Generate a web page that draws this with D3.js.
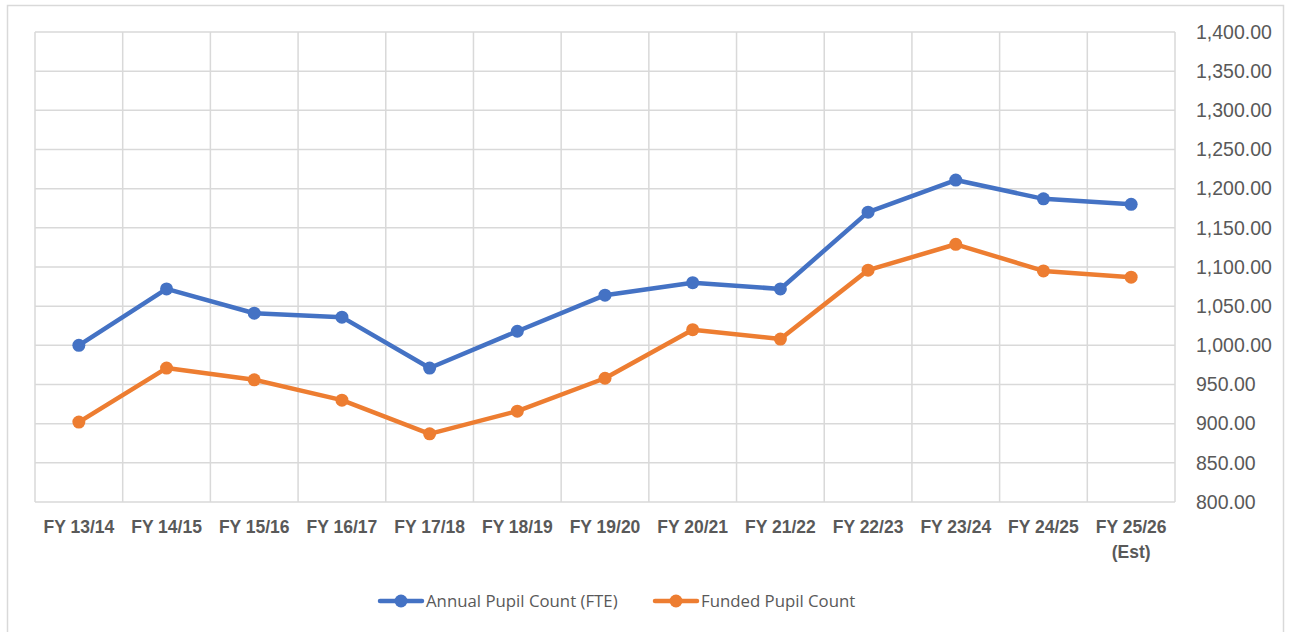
<!DOCTYPE html>
<html>
<head>
<meta charset="utf-8">
<script src="https://cdn.jsdelivr.net/npm/d3@7"></script>
<style>
  body { margin: 0; background: #fff; }
  svg { display: block; font-family: "Open Sans", "Noto Sans", sans-serif; }
</style>
</head>
<body>
<svg id="grafico"></svg>
<script>
// dados
const anos = ["FY 13/14", "FY 14/15", "FY 15/16", "FY 16/17", "FY 17/18", "FY 18/19",
  "FY 19/20", "FY 20/21", "FY 21/22", "FY 22/23", "FY 23/24", "FY 24/25", "FY 25/26 (Est)"];
const contagemAnual = [1000, 1072, 1041, 1036, 971, 1018, 1064, 1080, 1072, 1170, 1211, 1187, 1180];
const contagemFinanciada = [902, 971, 956, 930, 887, 916, 958, 1020, 1008, 1096, 1129, 1095, 1087];
const ticksY = [800, 850, 900, 950, 1000, 1050, 1100, 1150, 1200, 1250, 1300, 1350, 1400];
const series = [
  { nome: "Annual Pupil Count (FTE)", valores: contagemAnual, cor: "#4472C4" },
  { nome: "Funded Pupil Count", valores: contagemFinanciada, cor: "#ED7D31" }
];

const width = 1290, height = 632;
const margem = { left: 35, right: 115, top: 32, bottom: 130 };

let svg = d3.select("#grafico")
  .attr("width", width)
  .attr("height", height);

// borda externa do gráfico
svg.append("rect")
  .attr("x", 7.5).attr("y", 5.5)
  .attr("width", 1276).attr("height", 640)
  .attr("fill", "none")
  .attr("stroke", "#d9d9d9")
  .attr("stroke-width", 1.5);

let x = d3.scaleBand()
  .domain(anos)
  .range([margem.left, width - margem.right]);

let y = d3.scaleLinear()
  .domain([800, 1400])
  .range([height - margem.bottom, margem.top]);

// grade horizontal
svg.append("g")
  .selectAll("line")
  .data(ticksY)
  .enter().append("line")
  .attr("x1", margem.left).attr("x2", width - margem.right)
  .attr("y1", d => y(d)).attr("y2", d => y(d))
  .attr("stroke", "#d9d9d9")
  .attr("stroke-width", 1.5);

// grade vertical (limites das categorias)
let limites = anos.map(a => x(a)).concat([width - margem.right]);
svg.append("g")
  .selectAll("line")
  .data(limites)
  .enter().append("line")
  .attr("x1", d => d).attr("x2", d => d)
  .attr("y1", margem.top).attr("y2", height - margem.bottom)
  .attr("stroke", "#d9d9d9")
  .attr("stroke-width", 1.5);

// eixo y à direita
let eixoY = d3.axisRight(y)
  .tickValues(ticksY)
  .tickSize(0)
  .tickPadding(21)
  .tickFormat(d3.format(",.2f"));

svg.append("g")
  .attr("transform", "translate(" + (width - margem.right) + ",0)")
  .call(eixoY)
  .call(g => g.select(".domain").remove())
  .selectAll("text")
  .attr("fill", "#595959")
  .style("font-size", "19.5px");

// eixo x (rótulos em negrito, com quebra de linha)
let eixoX = d3.axisBottom(x).tickSize(0).tickPadding(19);
let gx = svg.append("g")
  .attr("transform", "translate(0," + (height - margem.bottom) + ")")
  .call(eixoX);
gx.select(".domain").remove();
gx.selectAll("text")
  .attr("fill", "#595959")
  .style("font-size", "17.5px")
  .style("font-weight", "bold")
  .each(function(d) {
    let t = d3.select(this);
    let m = d.match(/^(.*?)\s(\(.*\))$/);
    if (m) {
      t.text(null);
      t.append("tspan").attr("x", 0).text(m[1]);
      t.append("tspan").attr("x", 0).attr("dy", "1.4em").text(m[2]);
    }
  });

let linha = d3.line()
  .x((d, i) => x(anos[i]) + x.bandwidth() / 2)
  .y(d => y(d));

series.forEach(function(s) {
  let g = svg.append("g");
  g.append("path")
    .datum(s.valores)
    .attr("d", linha)
    .attr("fill", "none")
    .attr("stroke", s.cor)
    .attr("stroke-width", 4.5)
    .attr("stroke-linejoin", "round");
  g.selectAll("circle")
    .data(s.valores)
    .enter().append("circle")
    .attr("cx", (d, i) => x(anos[i]) + x.bandwidth() / 2)
    .attr("cy", d => y(d))
    .attr("r", 6.5)
    .attr("fill", s.cor);
});

// legenda
let legendaX = [380, 655];
let legenda = svg.append("g").attr("transform", "translate(0,601)");
series.forEach(function(s, i) {
  let item = legenda.append("g").attr("transform", "translate(" + legendaX[i] + ",0)");
  item.append("line")
    .attr("x1", 0).attr("x2", 42)
    .attr("stroke", s.cor)
    .attr("stroke-width", 4.5)
    .attr("stroke-linecap", "round");
  item.append("circle")
    .attr("cx", 21).attr("r", 6.5)
    .attr("fill", s.cor);
  item.append("text")
    .attr("x", 46)
    .attr("dy", "0.35em")
    .attr("fill", "#595959")
    .style("font-size", "16.8px")
    .text(s.nome);
});
</script>
</body>
</html>
